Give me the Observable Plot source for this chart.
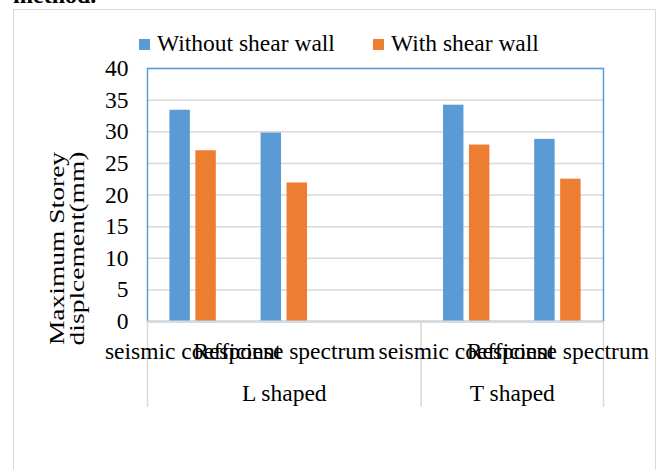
<!DOCTYPE html>
<html>
<head>
<meta charset="utf-8">
<script src="https://cdn.jsdelivr.net/npm/d3@7"></script>
<script src="https://cdn.jsdelivr.net/npm/@observablehq/plot@0.6"></script>
<style>
  html, body { margin: 0; padding: 0; background: #fff; }
  #page { position: relative; width: 661px; height: 470px; overflow: hidden;
          font-family: "Liberation Serif", "Times New Roman", serif; color: #000; }
  #lead { position: absolute; left: 13px; top: -17px; font-size: 24px; line-height: 24px; font-weight: bold; }
  #box { position: absolute; left: 13px; top: 9px; width: 643px; height: 600px;
         border: 1.5px solid #d9d9d9; box-sizing: border-box; }
  #chart { position: absolute; left: 0; top: 0; }
  .key { position: absolute; top: 31px; font-size: 23.5px; line-height: 24px; white-space: nowrap; }
  .sw { position: absolute; top: 39px; width: 11px; height: 11px; }
</style>
</head>
<body>
<div id="page">
  <div id="lead">method.</div>
  <div id="box"></div>
  <div id="chart"></div>
  <div id="legend"></div>
</div>
<script>
// Category tiers: analysis method (inner) and building shape (outer)
const methods = ["seismic coefficient", "Response spectrum", "", "seismic coefficient", "Response spectrum"];
const shapes = ["L shaped", "L shaped", "L shaped", "T shaped", "T shaped"];

// Series
const seriesNames = ["Without shear wall", "With shear wall"];
const seriesColors = ["#5b9bd5", "#ed7d31"];
const withoutShearWall = [33.4, 29.8, null, 34.2, 28.8];
const withShearWall = [27.0, 21.9, null, 27.9, 22.5];

// Value axis
const yTicks = [0, 5, 10, 15, 20, 25, 30, 35, 40];
const yTitle = "Maximum Storey\ndisplcement(mm)";

// Clustered columns: gap width 219%, overlap -27% (in units of one bar width)
const gapWidth = 2.19, overlap = -0.27;
const nSeries = seriesNames.length;
const barW = 1 / (nSeries - (nSeries - 1) * overlap + gapWidth);
const bars = [];
[withoutShearWall, withShearWall].forEach((vals, s) => {
  vals.forEach((v, i) => {
    if (v == null) return;
    const x1 = i + barW * (gapWidth / 2 + s * (1 - overlap));
    bars.push({series: seriesNames[s], x1, x2: x1 + barW, value: v});
  });
});

// Outer tier spans
const groups = [];
shapes.forEach((g, i) => {
  const last = groups[groups.length - 1];
  if (last && last.label === g) last.end = i + 1;
  else groups.push({label: g, start: i, end: i + 1});
});
const bounds = [0, ...groups.map(g => g.end)];
const innerLabels = methods.map((m, i) => ({m, c: i + 0.5})).filter(d => d.m);

const serif = '"Liberation Serif", "Times New Roman", serif';
const grey = "#d9d9d9";
const chart = Plot.plot({
  width: 661, height: 470,
  marginLeft: 147, marginRight: 58, marginTop: 68, marginBottom: 149,
  style: {fontFamily: serif, fontSize: "23.5px",
          color: "#000", background: "transparent", overflow: "visible"},
  x: {domain: [0, methods.length], axis: null},
  y: {domain: [0, 40], axis: null},
  color: {domain: seriesNames, range: seriesColors},
  marks: [
    Plot.ruleY(yTicks, {stroke: grey, strokeWidth: 1.5}),
    Plot.rect(bars, {x1: "x1", x2: "x2", y1: 0, y2: "value", fill: "series"}),
    Plot.frame({stroke: "#5b9bd5", strokeWidth: 1.5}),
    Plot.ruleY([0], {stroke: grey, strokeWidth: 2}),
    Plot.ruleX(bounds, {y1: 0, y2: 0, insetBottom: -86, stroke: grey, strokeWidth: 1.5}),
    Plot.text(innerLabels, {x: "c", y: 0, text: "m", dy: 29.5, fill: "#000"}),
    Plot.text(groups, {x: d => (d.start + d.end) / 2, y: 0, text: "label", dy: 71.5, fill: "#000"}),
    Plot.text(yTicks, {x: 0, y: d => d, text: d => String(d), textAnchor: "end", dx: -19, fill: "#000"}),
    Plot.text([yTitle], {frameAnchor: "left", textAnchor: "middle", rotate: -90, dx: -79.5, dy: 53.5,
                         fontFamily: "Liberation Serif", fontSize: 22, lineHeight: 0.886, fill: "#000"})
  ]
});
// the rotated axis title is drawn stretched along its reading direction
d3.select(chart).selectAll("tspan").each(function () {
  const t = this.parentNode;
  if (!t.dataset.stretched) {
    t.setAttribute("transform", t.getAttribute("transform") + " scale(1.25,1)");
    t.dataset.stretched = "1";
  }
});
document.getElementById("chart").appendChild(chart);

// Legend
const legend = document.getElementById("legend");
const swatchX = [139, 373], labelX = [157, 391];
seriesNames.forEach((name, i) => {
  const sw = document.createElement("div");
  sw.className = "sw";
  sw.style.left = swatchX[i] + "px";
  sw.style.background = seriesColors[i];
  legend.appendChild(sw);
  const t = document.createElement("div");
  t.className = "key";
  t.style.left = labelX[i] + "px";
  t.textContent = name;
  legend.appendChild(t);
});
</script>
</body>
</html>
